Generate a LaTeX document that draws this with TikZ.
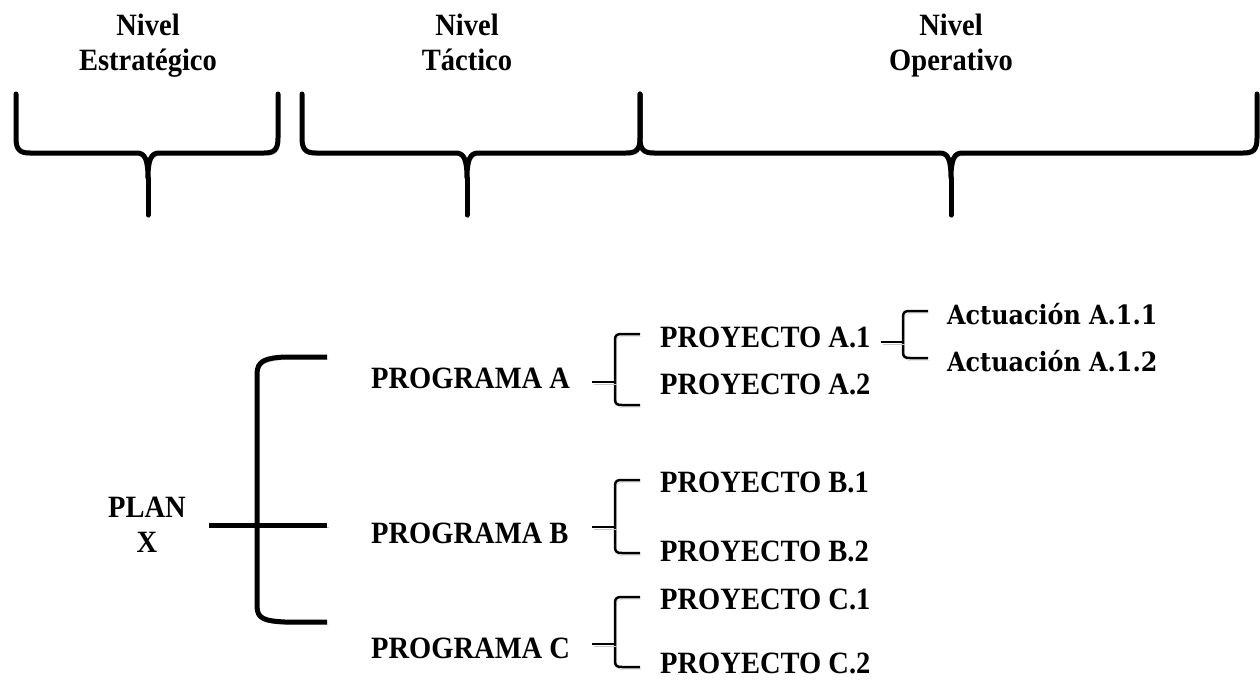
\documentclass[tikz,border=0pt]{standalone}
\usepackage{fontspec}
\setmainfont{Liberation Serif}[FakeStretch=0.92]
\newfontfamily\actfont{DejaVu Serif Condensed}
\newcommand\lvlbrace[4]{% name, left, tip, right
  \coordinate (#1-l) at (#2,94);
  \coordinate (#1-r) at (#4,94);
  \coordinate (#1-c) at (#3,178);
  \coordinate (#1-tip) at (#3,215);
  \draw[bigbrace] (#1-l) -- (#2,138) .. controls (#2,150) and (#2+4,153) .. (#2+14,153) -- (#3-11,153) .. controls (#3-3,153) and (#3,160) .. (#1-c)
     .. controls (#3,160) and (#3+3,153) .. (#3+11,153) -- (#4-14,153) .. controls (#4-4,153) and (#4,150) .. (#4,138) -- (#1-r);
  \draw[bigbrace] (#1-c) -- (#1-tip);
}
\newcommand\smallbrk[7]{% name, stub x, vertical x, arm x, top, bottom, stub y
  \coordinate (#1-s) at (#2,#7);
  \coordinate (#1-v) at (#3,#7);
  \coordinate (#1-t) at (#4,#5);
  \coordinate (#1-b) at (#4,#6);
  \draw[smallbr] (#1-t) -- (#3+7,#5) .. controls (#3+2,#5) and (#3,#5+1) .. (#3,#5+6) -- (#3,#6-6) .. controls (#3,#6-1) and (#3+2,#6) .. (#3+7,#6) -- (#1-b);
  \draw[smallbr] (#1-s) -- (#1-v);
}
\begin{document}
\begin{tikzpicture}[x=1pt,y=-1pt,
  txt/.style={font=\fontsize{31}{35}\selectfont\bfseries, inner sep=0pt, align=center},
  lvl/.style={txt, anchor=base},
  item/.style={txt, anchor=base west},
  act/.style={font=\actfont\fontsize{26.5}{30}\selectfont\bfseries, inner sep=0pt, anchor=base west},
  shd/.style={preaction={draw=black!22, transform canvas={xshift=1.5pt,yshift=-2.5pt}}},
  bigbrace/.style={line width=5pt, line join=round, line cap=round, shd},
  planbr/.style={line width=5pt, line join=round, shd},
  smallbr/.style={line width=2.5pt, line join=round, shd}]
\useasboundingbox (0,0) rectangle (1260,680);

% level headings (base = last line)
\node[lvl] (ne) at (148,70) {Nivel\\Estratégico};
\node[lvl] (nt) at (467,70) {Nivel\\Táctico};
\node[lvl] (no) at (951,70) {Nivel\\Operativo};

% level braces
\lvlbrace{be}{16}{148}{278}
\lvlbrace{bt}{302}{467}{640}
\lvlbrace{bo}{640}{951}{1257}

% plan
\node[txt] (plan) at (147,525) {PLAN\\X};
\coordinate (pb-top) at (327,357);
\coordinate (pb-bot) at (327,622);
\coordinate (pb-mid) at (327,525);
\coordinate (pb-in) at (209,525);
\draw[planbr] (pb-top) -- (285,357) .. controls (265,358) and (257,361) .. (257,374) -- (257,606) .. controls (257,619) and (265,621) .. (285,622) -- (pb-bot);
\draw[planbr] (pb-in) -- (pb-mid);

% programas
\node[item] (pga) at (371,388) {PROGRAMA A};
\node[item] (pgb) at (371,543) {PROGRAMA B};
\node[item] (pgc) at (371,658) {PROGRAMA C};

% proyectos
\node[item] (pa1) at (660,347) {PROYECTO A.1};
\node[item] (pa2) at (660,394) {PROYECTO A.2};
\node[item] (pb1) at (660,492) {PROYECTO B.1};
\node[item] (pb2) at (660,561) {PROYECTO B.2};
\node[item] (pc1) at (660,609) {PROYECTO C.1};
\node[item] (pc2) at (660,673) {PROYECTO C.2};

\smallbrk{ka}{592}{615}{640}{334}{405}{382}
\smallbrk{kb}{592}{615}{640}{480}{553}{527}
\smallbrk{kc}{592}{615}{640}{597}{667}{644}

% actuaciones
\node[act] (a11) at (947,324) {Actuación A.1.1};
\node[act] (a12) at (947,371) {Actuación A.1.2};
\smallbrk{kd}{881}{903}{928}{311}{358}{342}
\end{tikzpicture}
\end{document}
